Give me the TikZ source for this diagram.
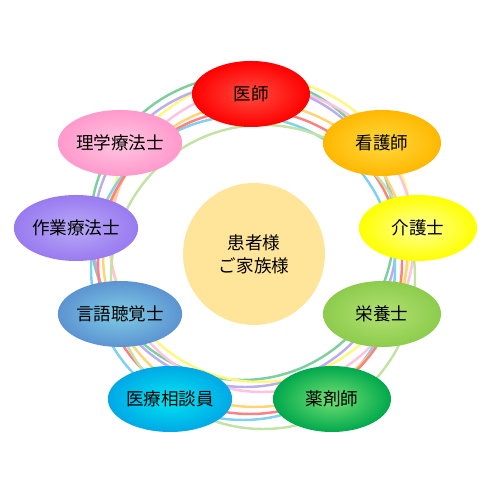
\documentclass[tikz,border=0pt]{standalone}
\usepackage{fontspec}
\setmainfont{Noto Sans CJK JP}
\usepackage{xcolor}
\usetikzlibrary{shapes.geometric, positioning, backgrounds}
\definecolor{ringgreen}{rgb}{0.49, 0.81, 0.62}
\definecolor{ringyellow}{rgb}{1.00, 0.97, 0.50}
\definecolor{ringpink}{rgb}{1.00, 0.76, 0.88}
\definecolor{ringlavender}{rgb}{0.73, 0.68, 0.94}
\definecolor{ringblue}{rgb}{0.50, 0.82, 0.94}
\definecolor{ringgold}{rgb}{1.00, 0.83, 0.45}
\definecolor{ringred}{rgb}{1.00, 0.50, 0.50}
\definecolor{ringlime}{rgb}{0.76, 0.89, 0.64}
\definecolor{patientfill}{rgb}{1.00, 0.90, 0.60}

\begin{document}
\begin{tikzpicture}[
  role/.style={
    ellipse, minimum width=2.36cm, minimum height=1.32cm, inner sep=0pt,
    align=center, font=\fontsize{10}{13}\selectfont, shading=radial
  },
  patient/.style={
    circle, minimum size=2.84cm, inner sep=0pt, fill=patientfill,
    align=center, font=\fontsize{10}{13}\selectfont
  },
  ring/.style={line width=1.4pt}
]
  \useasboundingbox (0,0) rectangle (10,10);

  \node[patient] (patient) at (5.08, 4.92) {患者様\\ご家族様};

  \node[role, inner color={rgb,1:red,1;green,0.30;blue,0.25}, outer color={rgb,1:red,1;green,0;blue,0}] (doctor) at (5.02, 8.12) {医師};
  \node[role, inner color={rgb,1:red,1;green,0.85;blue,0.25}, outer color={rgb,1:red,1;green,0.72;blue,0}] (nurse) at (7.64, 7.14) {看護師};
  \node[role, inner color={rgb,1:red,1;green,1;blue,0.60}, outer color={rgb,1:red,1;green,1;blue,0}] (carer) at (8.36, 5.44) {介護士};
  \node[role, inner color={rgb,1:red,0.70;green,0.88;blue,0.45}, outer color={rgb,1:red,0.55;green,0.80;blue,0.30}] (dietitian) at (7.64, 3.72) {栄養士};
  \node[role, inner color={rgb,1:red,0.45;green,0.88;blue,0.45}, outer color={rgb,1:red,0;green,0.66;blue,0.30}] (pharmacist) at (6.64, 2.02) {薬剤師};
  \node[role, inner color={rgb,1:red,0;green,0.90;blue,0.95}, outer color={rgb,1:red,0;green,0.66;blue,0.90}] (counselor) at (3.40, 2.02) {医療相談員};
  \node[role, inner color={rgb,1:red,0.50;green,0.80;blue,0.90}, outer color={rgb,1:red,0.36;green,0.58;blue,0.82}] (speech) at (2.40, 3.72) {言語聴覚士};
  \node[role, inner color={rgb,1:red,0.72;green,0.66;blue,0.97}, outer color={rgb,1:red,0.60;green,0.48;blue,0.94}] (occupational) at (1.52, 5.44) {作業療法士};
  \node[role, inner color={rgb,1:red,1;green,0.78;blue,0.88}, outer color={rgb,1:red,1;green,0.60;blue,0.80}] (physical) at (2.40, 7.14) {理学療法士};

  % interwoven rings behind the team
  \begin{scope}[on background layer]
    \foreach \col/\cx/\cy in {ringgreen/4.84/5.44, ringyellow/5.20/5.40, ringpink/5.24/5.20,
        ringlavender/4.90/5.30, ringblue/4.86/4.64, ringgold/5.10/4.90,
        ringred/5.00/4.76, ringlime/5.26/4.46}
      \draw[ring, \col] (\cx, \cy) circle (3.04);
  \end{scope}
\end{tikzpicture}
\end{document}
